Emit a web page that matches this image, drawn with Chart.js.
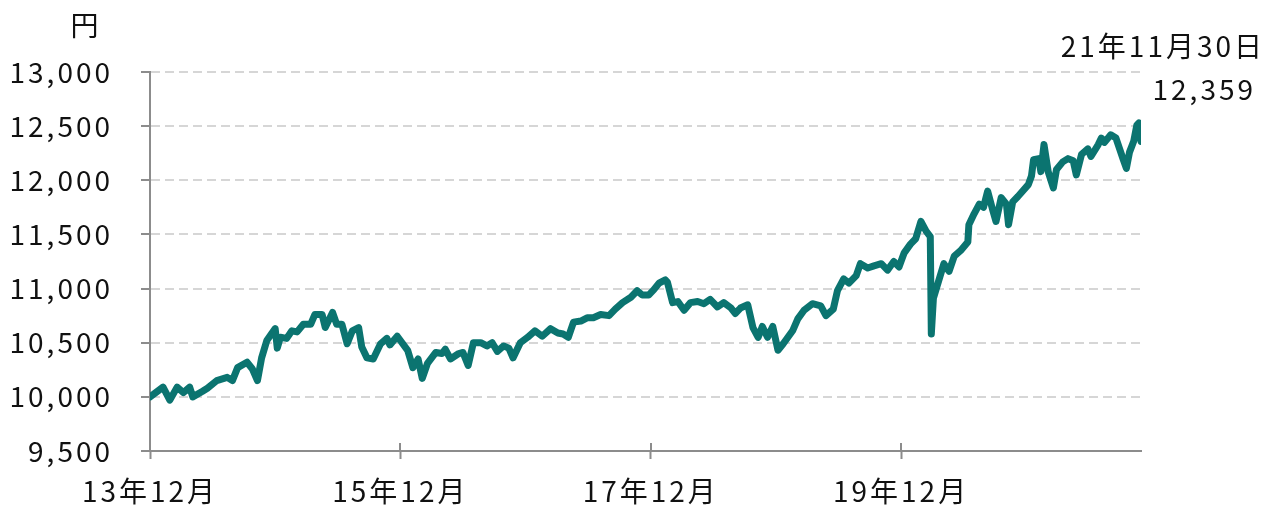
<!DOCTYPE html>
<html>
<head>
<meta charset="utf-8">
<script src="https://cdn.jsdelivr.net/npm/chart.js@4/dist/chart.umd.min.js"></script>
<style>
  html, body { margin: 0; padding: 0; background: #fff; }
  canvas { display: block; }
</style>
</head>
<body>
<canvas id="navChart" width="1280" height="518"></canvas>
<script>
// months since 13年12月 (fractional) and the value in 円
const months = [
  0, 1.25, 1.9, 2.6, 3.2, 3.8, 4.1, 5.0, 5.5, 6.4, 7.4, 7.9, 8.4, 9.3, 9.8, 10.3, 10.7, 11.2, 11.7, 12.0,
  12.2, 12.5, 13.1, 13.6, 14.1, 14.7, 15.4, 15.8, 16.5, 16.8, 17.5, 17.9, 18.4, 18.9, 19.4, 20.0, 20.3, 20.8, 21.4, 22.1,
  22.7, 23.0, 23.7, 24.0, 24.7, 25.2, 25.7, 26.1, 26.6, 27.4, 28.0, 28.3, 28.8, 29.6, 30.0, 30.5, 31.0, 31.7, 32.3, 32.8,
  33.3, 33.9, 34.4, 34.8, 35.5, 36.2, 36.9, 37.6, 38.4, 39.1, 39.6, 40.1, 40.6, 41.3, 41.9, 42.5, 43.2, 44.0, 44.6, 45.3,
  46.1, 46.7, 47.2, 47.8, 48.3, 48.8, 49.4, 49.6, 50.1, 50.6, 51.2, 51.8, 52.5, 53.1, 53.7, 54.4, 55.0, 55.7, 56.1, 56.6,
  57.3, 57.8, 58.3, 58.7, 59.2, 59.7, 60.2, 60.7, 61.6, 62.1, 62.7, 63.5, 64.3, 64.8, 65.5, 65.9, 66.5, 67.0, 67.7, 68.1,
  68.8, 69.4, 70.1, 70.7, 71.3, 71.8, 72.3, 72.9, 73.4, 73.9, 74.4, 74.8, 74.9, 75.1, 75.6, 76.1, 76.6, 77.1, 77.7, 78.4,
  78.5, 79.0, 79.5, 79.9, 80.3, 80.8, 81.1, 81.6, 82.1, 82.3, 82.7, 83.2, 84.2, 84.5, 84.7, 85.2, 85.4, 85.7, 86.1, 86.6,
  86.9, 87.5, 88.0, 88.5, 88.8, 89.3, 89.9, 90.2, 90.9, 91.2, 91.5, 92.1, 92.6, 93.3, 93.6, 93.9, 94.3, 94.6, 94.8, 95.0
];
const navValues = [
  10000, 10090, 9970, 10090, 10040, 10090, 10000, 10050, 10080, 10150, 10180, 10150, 10270, 10320, 10260, 10150, 10360, 10520, 10590, 10630,
  10450, 10550, 10540, 10610, 10600, 10670, 10670, 10760, 10760, 10640, 10780, 10670, 10670, 10490, 10610, 10640, 10460, 10360, 10350, 10490,
  10540, 10480, 10560, 10520, 10430, 10270, 10350, 10170, 10310, 10410, 10400, 10440, 10350, 10400, 10410, 10290, 10500, 10500, 10470, 10500,
  10420, 10470, 10450, 10360, 10500, 10550, 10610, 10560, 10630, 10590, 10580, 10550, 10690, 10700, 10730, 10730, 10760, 10750, 10810, 10870,
  10920, 10980, 10940, 10940, 10990, 11050, 11080, 11060, 10870, 10880, 10800, 10870, 10880, 10860, 10900, 10830, 10870, 10820, 10770, 10820,
  10850, 10640, 10550, 10650, 10550, 10650, 10430, 10490, 10610, 10720, 10800, 10860, 10840, 10750, 10810, 10980, 11090, 11050, 11120, 11230,
  11190, 11210, 11230, 11170, 11250, 11200, 11330, 11410, 11460, 11620, 11530, 11480, 10580, 10910, 11070, 11230, 11160, 11300, 11350, 11430,
  11590, 11690, 11780, 11750, 11900, 11720, 11620, 11840, 11780, 11590, 11800, 11850, 11960, 12040, 12190, 12200, 12080, 12330, 12080, 11930,
  12100, 12170, 12200, 12180, 12050, 12240, 12290, 12220, 12330, 12390, 12350, 12420, 12390, 12190, 12110, 12260, 12360, 12510, 12530, 12359
];
const tickMonths = [0, 24, 48, 72];
const tickLabels = ['13年12月', '15年12月', '17年12月', '19年12月'];
const yMin = 9500;
const yMax = 13000;
const yStep = 500;
const unitLabel = '円';
const lastDateLabel = '21年11月30日';
const lastValueLabel = '12,359';

const FONT = '"Noto Sans CJK JP", "Noto Sans", sans-serif';
const AXIS_GRAY = '#8c8c8c';

// spread the glyphs a little so the font looks like the original,
// plus the unit / last value texts and the tick marks above the x axis
const extrasPlugin = {
  id: 'extras',
  beforeDraw(chart) {
    chart.ctx.letterSpacing = '3px';
  },
  afterDraw(chart) {
    const ctx = chart.ctx;
    const xScale = chart.scales.x;
    const bottom = chart.chartArea.bottom;
    ctx.save();
    ctx.strokeStyle = AXIS_GRAY;
    ctx.lineWidth = 2;
    tickMonths.forEach(m => {
      const px = Math.round(xScale.getPixelForValue(m));
      ctx.beginPath();
      ctx.moveTo(px, bottom - 8);
      ctx.lineTo(px, bottom);
      ctx.stroke();
    });
    ctx.letterSpacing = '3px';
    ctx.fillStyle = '#111';
    ctx.font = '28px ' + FONT;
    ctx.textBaseline = 'middle';
    ctx.textAlign = 'center';
    ctx.fillText(unitLabel, 86, 25);
    ctx.textAlign = 'right';
    ctx.fillText(lastDateLabel, 1265, 46);
    ctx.fillText(lastValueLabel, 1256, 89);
    ctx.restore();
  }
};

const canvasElement = document.getElementById('navChart');
const lineChart = new Chart(canvasElement, {
  type: 'line',
  data: {
    datasets: [{
      data: months.map((m, i) => ({ x: m, y: navValues[i] })),
      borderColor: '#0b7470',
      borderWidth: 7,
      borderJoinStyle: 'round',
      borderCapStyle: 'round',
      pointRadius: 0,
      tension: 0,
      fill: false
    }]
  },
  options: {
    responsive: false,
    animation: false,
    devicePixelRatio: 1,
    layout: { padding: { top: 72, right: 139, left: 0, bottom: 0 } },
    plugins: {
      legend: { display: false },
      tooltip: { enabled: false }
    },
    scales: {
      x: {
        type: 'linear',
        min: 0,
        max: 95,
        afterBuildTicks: scale => {
          scale.ticks = tickMonths.map(v => ({ value: v }));
        },
        afterFit: scale => { scale.height = 67; },
        grid: {
          drawOnChartArea: false,
          drawTicks: true,
          tickLength: 8,
          tickColor: AXIS_GRAY,
          tickWidth: 2
        },
        border: { color: AXIS_GRAY, width: 2 },
        ticks: {
          padding: 16,
          maxRotation: 0,
          color: '#111',
          font: { family: FONT, size: 28 },
          callback: value => tickLabels[tickMonths.indexOf(value)]
        }
      },
      y: {
        min: yMin,
        max: yMax,
        afterFit: scale => { scale.width = 150; },
        grid: {
          color: '#d6d6d6',
          lineWidth: 2,
          drawTicks: true,
          tickLength: 9,
          tickColor: AXIS_GRAY,
          tickWidth: 2,
          tickBorderDash: []
        },
        border: { color: AXIS_GRAY, width: 2, dash: [9, 5] },
        ticks: {
          stepSize: yStep,
          padding: 28,
          color: '#111',
          font: { family: FONT, size: 28 },
          callback: value => value.toLocaleString('en-US')
        }
      }
    }
  },
  plugins: [extrasPlugin]
});
</script>
</body>
</html>
